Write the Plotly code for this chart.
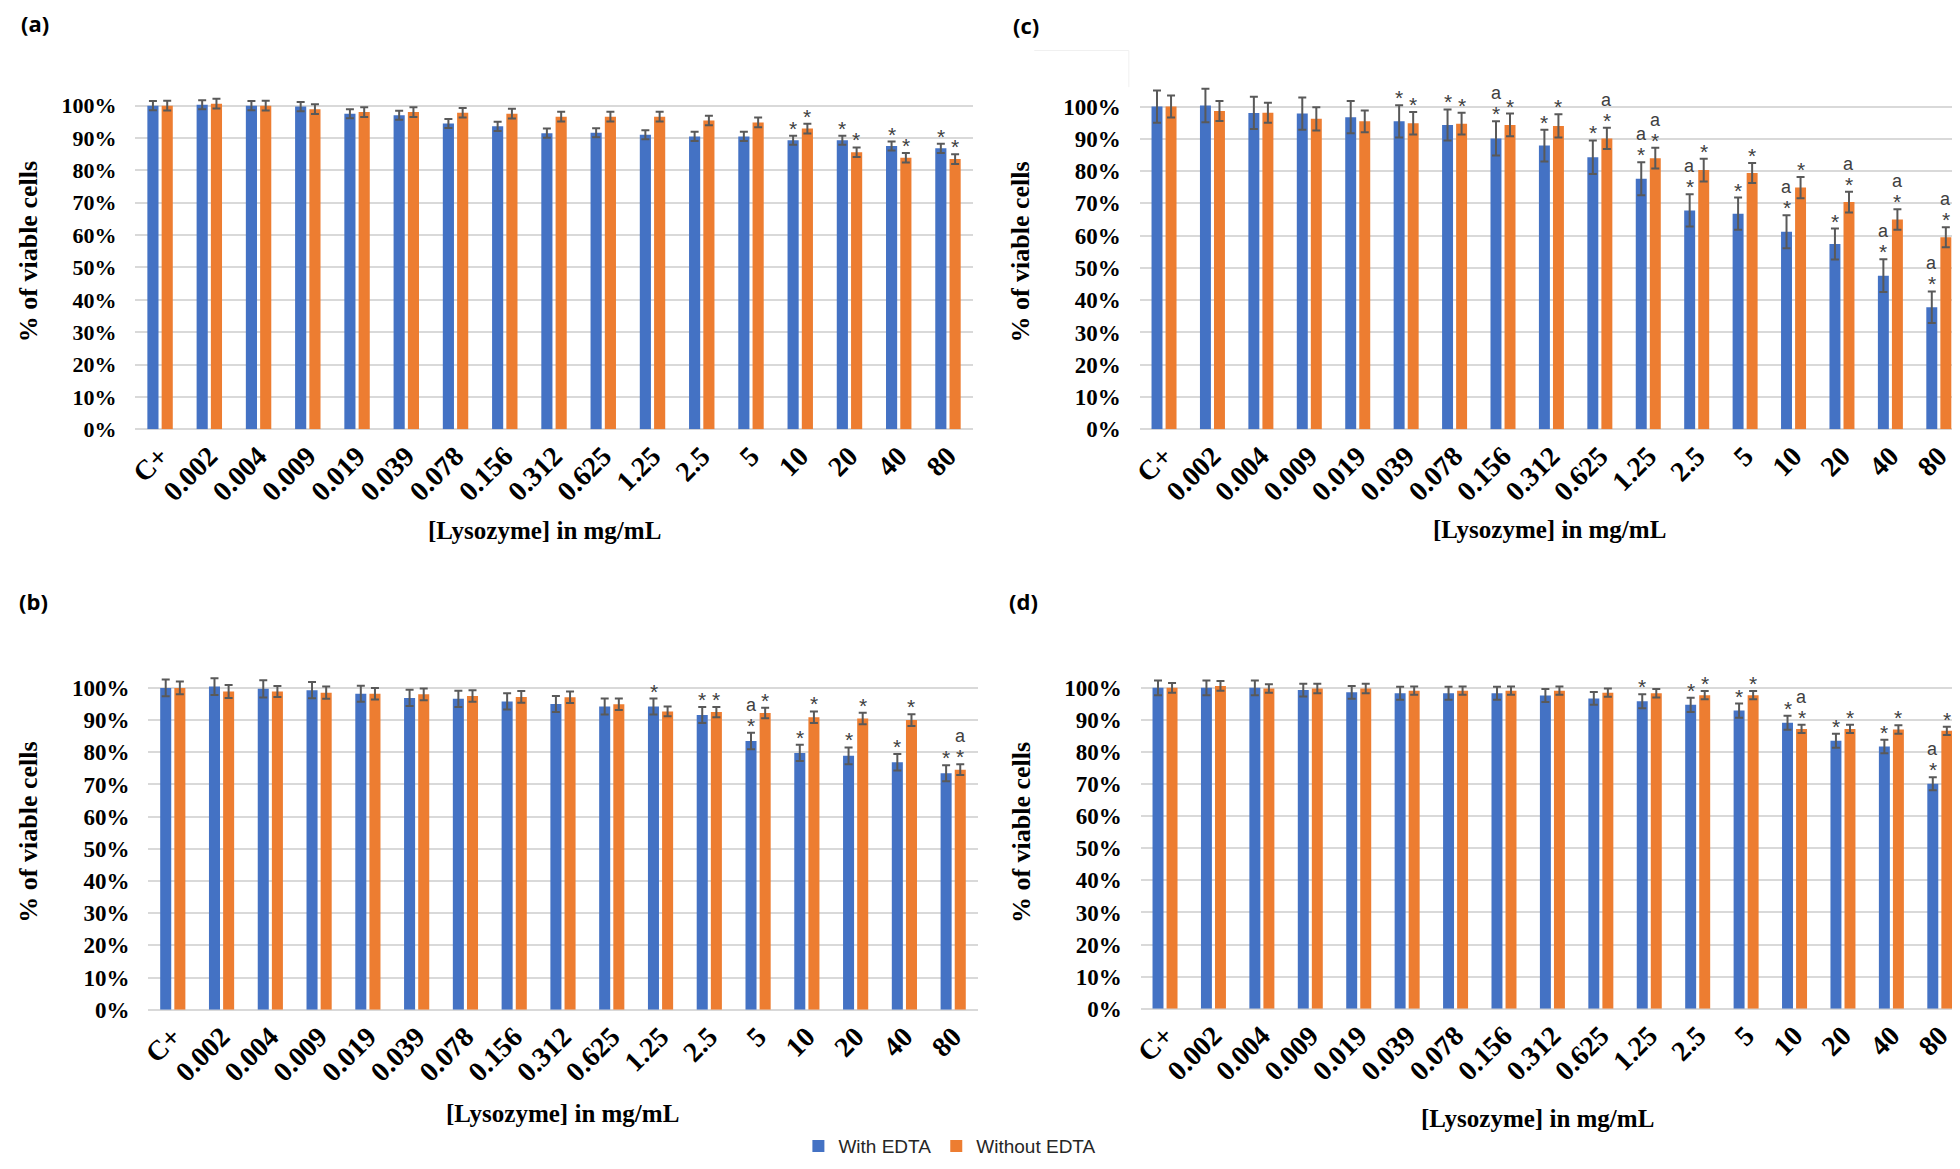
import plotly.graph_objects as go

W, H = 1960, 1169

categories = ["C+", "0.002", "0.004", "0.009", "0.019", "0.039", "0.078", "0.156",
              "0.312", "0.625", "1.25", "2.5", "5", "10", "20", "40", "80"]

# Panel (a)
a_with = [100, 100.3, 100, 99.7, 97.5, 97, 94.5, 93.6, 91.5, 91.6, 91.0, 90.5, 90.5, 89.3, 89.3, 87.5, 86.8]
a_with_err = [1.4] * 17
a_without = [100, 100.6, 100, 98.9, 98, 98, 97.8, 97.5, 96.6, 96.6, 96.6, 95.4, 94.8, 92.9, 85.6, 83.9, 83.5]
a_without_err = [1.5] * 17
a_marks_with = ["", "", "", "", "", "", "", "", "", "", "", "", "", "*", "*", "*", "*"]
a_marks_without = ["", "", "", "", "", "", "", "", "", "", "", "", "", "*", "*", "*", "*"]

# Panel (b)
b_with = [100, 100.4, 99.7, 99.3, 98.2, 96.9, 96.6, 95.8, 95, 94.2, 94.2, 91.6, 83.5, 79.8, 78.9, 76.9, 73.5]
b_with_err = [2.6, 2.6, 2.7, 2.5, 2.5, 2.5, 2.5, 2.5, 2.5, 2.5, 2.5, 2.5, 2.6, 2.5, 2.6, 2.6, 2.5]
b_without = [100, 98.9, 98.9, 98.5, 98.2, 98, 97.5, 97.2, 97.1, 94.9, 92.7, 92.5, 92.2, 90.9, 90.5, 90, 74.6]
b_without_err = [2.0, 2.0, 1.7, 1.9, 1.8, 1.8, 1.8, 1.8, 1.8, 1.8, 1.5, 1.6, 1.6, 1.8, 1.8, 1.8, 1.7]
b_marks_with = ["", "", "", "", "", "", "", "", "", "", "*", "*", "a*", "*", "*", "*", "*"]
b_marks_without = ["", "", "", "", "", "", "", "", "", "", "", "*", "*", "*", "*", "*", "a*"]

# Panel (c)
c_with = [100, 100.3, 98, 97.8, 96.7, 95.4, 94.3, 90.1, 87.9, 84.3, 77.6, 67.8, 66.8, 61.2, 57.4, 47.6, 37.8]
c_with_err = [5, 5.2, 5, 5, 5, 5, 4.8, 5.3, 4.9, 5.2, 5.1, 5, 5, 5.1, 4.8, 5.1, 4.9]
c_without = [100, 98.6, 98.1, 96.2, 95.4, 94.8, 94.7, 94.3, 94, 90.1, 84, 80.3, 79.4, 74.9, 70.4, 65, 59.5]
c_without_err = [3.4, 3.1, 3.1, 3.6, 3.4, 3.5, 3.4, 3.5, 3.6, 3.3, 3.2, 3.5, 3.1, 3.3, 3.2, 3.2, 3.1]
c_marks_with = ["", "", "", "", "", "*", "*", "a*", "*", "*", "a*", "a*", "*", "a*", "*", "a*", "a*"]
c_marks_without = ["", "", "", "", "", "*", "*", "*", "*", "a*", "a*", "*", "*", "*", "a*", "a*", "a*"]

# Panel (d)
d_with = [100, 100, 100, 99.3, 98.6, 98.3, 98.3, 98.3, 97.6, 96.7, 95.8, 94.7, 92.9, 89.1, 83.5, 81.7, 70.1]
d_with_err = [2.3, 2.3, 2.3, 2.0, 2.0, 2.0, 2.0, 2.0, 2.0, 2.0, 2.2, 2.2, 2.2, 2.2, 2.2, 2.1, 2.0]
d_without = [100, 100.6, 99.8, 99.8, 99.8, 99.1, 99.1, 99.1, 99.1, 98.5, 98.3, 97.7, 97.7, 87.2, 87.2, 87, 86.6]
d_without_err = [1.5, 1.5, 1.3, 1.5, 1.5, 1.3, 1.3, 1.3, 1.3, 1.3, 1.3, 1.3, 1.3, 1.3, 1.3, 1.3, 1.3]
d_marks_with = ["", "", "", "", "", "", "", "", "", "", "*", "*", "*", "*", "*", "*", "a*"]
d_marks_without = ["", "", "", "", "", "", "", "", "", "", "", "*", "*", "a*", "*", "*", "*"]

y_tickvals = [0, 10, 20, 30, 40, 50, 60, 70, 80, 90, 100, 110]
y_ticktext = ["0%", "10%", "20%", "30%", "40%", "50%", "60%", "70%", "80%", "90%", "100%", ""]

series_names = ["With EDTA", "Without EDTA"]
BLUE = "#4472C4"
ORANGE = "#ED7D31"
SERIF = "Liberation Serif"
SANS = "Liberation Sans"

# layout geometry in pixels (not data)
panels = [
    dict(key="a", with_=a_with, we=a_with_err, without=a_without, woe=a_without_err,
         mw=a_marks_with, mwo=a_marks_without,
         x0=119, x1=960, top=66, bottom=426, ylab=(11, 246), xlab=(530, 528), lab=(18, 15), ytf=22),
    dict(key="c", with_=c_with, we=c_with_err, without=c_without, woe=c_without_err,
         mw=c_marks_with, mwo=c_marks_without,
         x0=1128, x1=1955, top=67, bottom=426, ylab=(1008, 247), xlab=(1540, 527), lab=(1014, 17), ytf=23),
    dict(key="b", with_=b_with, we=b_with_err, without=b_without, woe=b_without_err,
         mw=b_marks_with, mwo=b_marks_without,
         x0=132, x1=965, top=655, bottom=1013, ylab=(12, 833), xlab=(548, 1118), lab=(17, 600), ytf=23),
    dict(key="d", with_=d_with, we=d_with_err, without=d_without, woe=d_without_err,
         mw=d_marks_with, mwo=d_marks_without,
         x0=1129, x1=1956, top=655, bottom=1012, ylab=(1009, 834), xlab=(1528, 1123), lab=(1011, 600), ytf=23),
]

fig = go.Figure()
annotations = []
layout_axes = {}

for idx, p in enumerate(panels):
    n = idx + 1
    xa = "x" if n == 1 else f"x{n}"
    ya = "y" if n == 1 else f"y{n}"
    xkey = "xaxis" if n == 1 else f"xaxis{n}"
    ykey = "yaxis" if n == 1 else f"yaxis{n}"

    for s, (vals, errs, color) in enumerate([(p["with_"], p["we"], BLUE), (p["without"], p["woe"], ORANGE)]):
        fig.add_trace(go.Bar(
            x=categories, y=vals, name=series_names[s], marker=dict(color=color, line=dict(width=0)),
            error_y=dict(type="data", array=errs, visible=True, color="#595959", thickness=2, width=4),
            xaxis=xa, yaxis=ya, showlegend=(n == 1), legendgroup=series_names[s],
        ))

    layout_axes[xkey] = dict(
        domain=[p["x0"] / W, p["x1"] / W], anchor=ya, type="category",
        categoryorder="array", categoryarray=categories, range=[-0.5, len(categories) - 0.5],
        tickangle=-45, tickfont=dict(family=SERIF, size=28, color="#000000", weight="bold"),
        showgrid=False, showline=False, zeroline=False, ticks="", ticklabelstandoff=4,
    )
    layout_axes[ykey] = dict(
        domain=[1 - p["bottom"] / H, 1 - p["top"] / H], anchor=xa, range=[0, 110],
        tickvals=y_tickvals, ticktext=y_ticktext,
        tickfont=dict(family=SERIF, size=p["ytf"], color="#000000", weight="bold"),
        showgrid=True, gridcolor="#D9D9D9", gridwidth=2, zeroline=True, zerolinecolor="#D9D9D9",
        zerolinewidth=2, showline=False, ticks="", ticklabelstandoff=18,
    )

    # significance marks (x given as category index)
    for s, (vals, errs, marks, shift) in enumerate([(p["with_"], p["we"], p["mw"], -7),
                                                    (p["without"], p["woe"], p["mwo"], 7)]):
        for i, (v, e, m) in enumerate(zip(vals, errs, marks)):
            if "*" in m:
                annotations.append(dict(x=i, y=v + e, xref=xa, yref=ya, text="*", showarrow=False,
                                        xshift=shift, yshift=-6, yanchor="bottom",
                                        font=dict(family=SANS, size=21, color="#404040")))
            if "a" in m:
                annotations.append(dict(x=i, y=v + e, xref=xa, yref=ya, text="a", showarrow=False,
                                        xshift=shift, yshift=16, yanchor="bottom",
                                        font=dict(family=SANS, size=18, color="#404040")))

    # axis titles and panel labels
    annotations.append(dict(x=p["ylab"][0] / W, y=1 - p["ylab"][1] / H, xref="paper", yref="paper",
                            text="<b>% of viable cells</b>", textangle=-90, showarrow=False,
                            xanchor="center", yanchor="middle",
                            font=dict(family=SERIF, size=26, color="#000000")))
    annotations.append(dict(x=p["xlab"][0] / W, y=1 - p["xlab"][1] / H, xref="paper", yref="paper",
                            text="<b>[Lysozyme] in mg/mL</b>", showarrow=False,
                            xanchor="center", yanchor="middle",
                            font=dict(family=SERIF, size=25, color="#000000")))
    annotations.append(dict(x=p["lab"][0] / W, y=1 - p["lab"][1] / H, xref="paper", yref="paper",
                            text=f"<b>({p['key']})</b>", showarrow=False,
                            xanchor="center", yanchor="middle",
                            font=dict(family="Open Sans", size=22, color="#000000")))

fig.update_layout(
    width=W, height=H, margin=dict(l=0, r=0, t=0, b=0),
    paper_bgcolor="white", plot_bgcolor="white",
    barmode="group", bargap=0.42, bargroupgap=0.22,
    annotations=annotations,
    showlegend=True,
    legend=dict(orientation="h", x=785 / W, y=1 - 1151 / H, xanchor="left", yanchor="middle",
                font=dict(family=SANS, size=19, color="#262626"), bgcolor="rgba(0,0,0,0)",
                itemsizing="constant", traceorder="normal"),
    shapes=[
        dict(type="line", xref="paper", yref="paper", x0=1022 / W, x1=1117 / W, y0=1 - 43 / H, y1=1 - 43 / H,
             line=dict(color="#F0F0F0", width=1)),
        dict(type="line", xref="paper", yref="paper", x0=1117 / W, x1=1117 / W, y0=1 - 43 / H, y1=1 - 80 / H,
             line=dict(color="#F0F0F0", width=1)),
    ],
    **layout_axes,
)

fig.write_html("out.html")
